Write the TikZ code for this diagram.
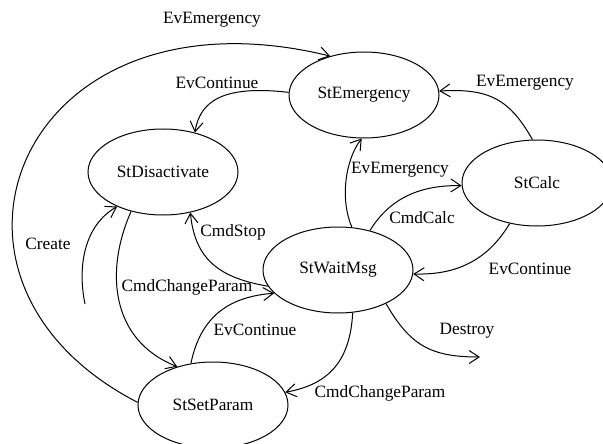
\documentclass[tikz,border=0pt]{standalone}
\usepackage{fontspec}
\setmainfont{Liberation Serif}
\usetikzlibrary{arrows.meta,shapes.geometric}
\tikzset{
  state/.style={draw, ellipse, line width=1pt, minimum width=150pt, minimum height=86pt, inner sep=0pt},
  lbl/.style={inner sep=0pt},
  arr/.style={line width=1pt, -{Straight Barb[length=10pt,width=13pt,line width=1pt]}},
  every node/.style={font=\fontsize{17.3}{20}\selectfont}
}
\begin{document}
\begin{tikzpicture}[x=1pt,y=-1pt]
\useasboundingbox (0,0) rectangle (603,444);
\clip (0,0) rectangle (603,444);
\node[state] (emer) at (364,95) {StEmergency};
\node[state] (disa) at (163,172) {StDisactivate};
\node[state] (calc) at (537,183) {StCalc};
\node[state] (wait) at (338,270) {StWaitMsg};
\node[state] (setp) at (213,405) {StSetParam};
\coordinate (dest) at (480,357);
\coordinate (cstart) at (85,304);

\draw[arr] (setp.178) .. controls (-100,280) and (20,-20) .. (emer.131);
\draw[arr] (emer.178) .. controls (225,85) and (200,100) .. (disa.51);
\draw[arr] (calc.96) .. controls (510,100) and (490,88) .. (emer.3);
\draw[arr] (wait.72) .. controls (340,200) and (345,160) .. (emer.267);
\draw[arr] (wait.51) .. controls (390,198) and (420,185) .. (calc.182);
\draw[arr] (calc.236) .. controls (485,265) and (450,275) .. (wait.357);
\draw[arr] (wait.325) .. controls (410,345) and (430,357) .. (dest);
\draw[arr] (wait.289) .. controls (350,365) and (325,385) .. (setp.10);
\draw[arr] (wait.193) .. controls (220,278) and (195,260) .. (disa.304);
\draw[arr] (disa.231) .. controls (105,270) and (110,340) .. (setp.133);
\draw[arr] (setp.118) .. controls (200,320) and (225,297) .. (wait.200);
\draw[arr] (cstart) .. controls (77,265) and (85,225) .. (disa.217);

\node[lbl] (l1) at (212,20) {EvEmergency};
\node[lbl] (l2) at (217,83) {EvContinue};
\node[lbl] (l3) at (525,83) {EvEmergency};
\node[lbl] (l4) at (400,170) {EvEmergency};
\node[lbl] (l5) at (422,218) {CmdCalc};
\node[lbl] (l6) at (530,269) {EvContinue};
\node[lbl] (l7) at (467,331) {Destroy};
\node[lbl] (l8) at (380,393) {CmdChangeParam};
\node[lbl] (l9) at (233,232) {CmdStop};
\node[lbl] (l10) at (187,287) {CmdChangeParam};
\node[lbl] (l11) at (255,330) {EvContinue};
\node[lbl] (l12) at (48,244) {Create};
\end{tikzpicture}
\end{document}
